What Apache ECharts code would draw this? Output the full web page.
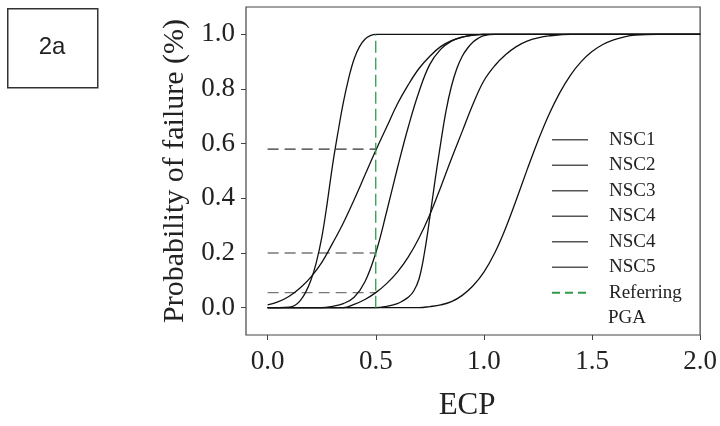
<!DOCTYPE html>
<html>
<head>
<meta charset="utf-8">
<script src="https://cdn.jsdelivr.net/npm/echarts@6/dist/echarts.min.js"></script>
<style>html,body{margin:0;padding:0;background:#fff}#c{width:720px;height:426px}</style>
</head>
<body>
<div id="c"></div>
<script>
// ---- data ----
const xTicks = [0, 0.5, 1.0, 1.5, 2.0];
const yTicks = [0, 0.2, 0.4, 0.6, 0.8, 1.0];
const legendLabels = ['NSC1', 'NSC2', 'NSC3', 'NSC4', 'NSC4', 'NSC5', 'Referring'];
const legendExtra = 'PGA';

const nsc1X = [0, 0.1, 0.125, 0.15, 0.175, 0.2, 0.225, 0.25, 0.275, 0.3, 0.325, 0.35, 0.375, 0.4, 0.425, 0.45, 0.475, 0.5, 2.0];
const nsc1Y = [0, 0.002, 0.008, 0.025, 0.055, 0.1, 0.165, 0.255, 0.38, 0.52, 0.64, 0.75, 0.84, 0.91, 0.955, 0.982, 0.995, 1.0, 1.0];

const nsc2X = [0, 0.05, 0.1, 0.15, 0.2, 0.25, 0.3, 0.35, 0.4, 0.45, 0.5, 0.55, 0.6, 0.65, 0.7, 0.75, 0.8, 0.85, 0.9, 0.95, 1.0, 2.0];
const nsc2Y = [0.01, 0.022, 0.042, 0.072, 0.112, 0.165, 0.235, 0.31, 0.395, 0.485, 0.575, 0.66, 0.745, 0.815, 0.875, 0.92, 0.955, 0.977, 0.99, 0.997, 1.0, 1.0];

const nsc3X = [0, 0.25, 0.3, 0.35, 0.4, 0.45, 0.5, 0.55, 0.6, 0.65, 0.7, 0.75, 0.8, 0.85, 0.9, 0.95, 1.0, 2.0];
const nsc3Y = [0, 0, 0.005, 0.015, 0.038, 0.095, 0.2, 0.35, 0.51, 0.66, 0.79, 0.89, 0.945, 0.975, 0.99, 0.997, 1.0, 1.0];

const nsc4X = [0, 0.35, 0.4, 0.45, 0.5, 0.55, 0.6, 0.65, 0.7, 0.75, 0.8, 0.85, 0.9, 0.95, 1.0, 1.05, 1.1, 1.15, 1.2, 1.25, 1.3, 1.4, 2.0];
const nsc4Y = [0, 0, 0.012, 0.03, 0.055, 0.088, 0.13, 0.185, 0.255, 0.34, 0.44, 0.545, 0.645, 0.745, 0.83, 0.885, 0.925, 0.955, 0.975, 0.987, 0.994, 1.0, 1.0];

const nsc4bX = [0, 0.5, 0.55, 0.6, 0.625, 0.65, 0.675, 0.7, 0.725, 0.75, 0.775, 0.8, 0.825, 0.85, 0.875, 0.9, 0.925, 0.95, 0.975, 1.0, 1.05, 2.0];
const nsc4bY = [0, 0, 0.005, 0.015, 0.025, 0.038, 0.06, 0.105, 0.2, 0.33, 0.47, 0.6, 0.72, 0.81, 0.875, 0.92, 0.95, 0.972, 0.986, 0.995, 1.0, 1.0];

const nsc5X = [0, 0.7, 0.75, 0.8, 0.85, 0.9, 0.95, 1.0, 1.05, 1.1, 1.15, 1.2, 1.25, 1.3, 1.35, 1.4, 1.45, 1.5, 1.55, 1.6, 1.65, 1.7, 1.8, 2.0];
const nsc5Y = [0, 0, 0.004, 0.01, 0.022, 0.045, 0.08, 0.13, 0.2, 0.29, 0.395, 0.505, 0.61, 0.705, 0.785, 0.85, 0.9, 0.937, 0.963, 0.98, 0.991, 0.997, 1.0, 1.0];

const pgaX = 0.5;
const refLevels = [0.58, 0.2, 0.055];

const zip = (xs, ys) => xs.map((x, i) => [x, ys[i]]);
const curves = [zip(nsc1X, nsc1Y), zip(nsc2X, nsc2Y), zip(nsc3X, nsc3Y), zip(nsc4X, nsc4Y), zip(nsc4bX, nsc4bY), zip(nsc5X, nsc5Y)];
const names = ['s1', 's2', 's3', 's4', 's5', 's6', 'pga'];
const serif = 'Liberation Serif';

const series = curves.map((d, i) => ({
  name: names[i], type: 'line', data: d, symbol: 'none', smooth: 0.4,
  itemStyle: {color: '#111'},
  lineStyle: {color: '#111', width: 1.3}, z: 3, silent: true
}));
refLevels.forEach((lv, i) => {
  series.push({
    type: 'line', data: [[0, lv], [pgaX, lv]], symbol: 'none', silent: true, z: 2,
    lineStyle: {color: i === 0 ? '#333' : '#777', width: 1.4, type: [11, 6]}
  });
});
series.push({
  name: 'pga', type: 'line', data: [[pgaX, 0], [pgaX, 1.0]], symbol: 'none', silent: true, z: 4,
  itemStyle: {color: '#2e9a4c'},
  lineStyle: {color: '#2e9a4c', width: 1.3, type: [12, 5]}
});

const labelMap = {};
names.forEach((n, i) => labelMap[n] = legendLabels[i]);

const option = {
  animation: false,
  backgroundColor: '#fff',
  grid: {left: 246, right: 17, top: 7, bottom: 90, show: true, borderColor: '#444', borderWidth: 1.2, containLabel: false},
  xAxis: {
    type: 'value', min: -0.1, max: 2.0,
    axisLine: {show: false, onZero: false},
    axisTick: {show: true, inside: false, length: 5, lineStyle: {color: '#444'}, customValues: xTicks},
    axisLabel: {customValues: xTicks, formatter: v => v.toFixed(1), fontFamily: serif, fontSize: 27, color: '#222', margin: 13},
    splitLine: {show: false},
    name: 'ECP', nameLocation: 'middle', nameGap: 55,
    nameTextStyle: {fontFamily: serif, fontSize: 31, color: '#222', padding: [0, 12, 0, 0]}
  },
  yAxis: {
    type: 'value', min: -0.1, max: 1.1,
    axisLine: {show: false, onZero: false},
    axisTick: {show: true, inside: false, length: 5, lineStyle: {color: '#444'}, customValues: yTicks},
    axisLabel: {customValues: yTicks, formatter: v => v.toFixed(1), fontFamily: serif, fontSize: 27, color: '#222', margin: 11},
    splitLine: {show: false},
    name: 'Probability of failure (%)', nameLocation: 'middle', nameGap: 47,
    nameTextStyle: {fontFamily: serif, fontSize: 30, color: '#222'}
  },
  legend: {
    orient: 'vertical', left: 546, top: 122, itemWidth: 36, itemHeight: 14, itemGap: 0,
    selectedMode: false,
    formatter: n => labelMap[n],
    itemStyle: {opacity: 0},
    textStyle: {fontFamily: serif, fontSize: 19, color: '#222', lineHeight: 25.5, padding: [0, 0, 0, 16]},
    data: names.map(n => n === 'pga'
      ? {name: n, itemStyle: {opacity: 0}, lineStyle: {color: '#2e9a4c', width: 2, type: [8, 5]}}
      : {name: n, itemStyle: {opacity: 0}, lineStyle: {color: '#555', width: 1.5}})
  },
  graphic: [
    {type: 'rect', left: 7, top: 8, shape: {width: 90, height: 79}, style: {fill: '#fff', stroke: '#333', lineWidth: 1.5}},
    {type: 'text', x: 52, y: 47, style: {text: '2a', font: '24px "Liberation Sans"', fill: '#222', align: 'center', verticalAlign: 'middle'}},
    {type: 'text', x: 608, y: 318, style: {text: legendExtra, font: '19px "Liberation Serif"', fill: '#222', align: 'left', verticalAlign: 'middle'}}
  ],
  series: series
};
echarts.init(document.getElementById('c'), null, {renderer: 'canvas'}).setOption(option);
</script>
</body>
</html>
